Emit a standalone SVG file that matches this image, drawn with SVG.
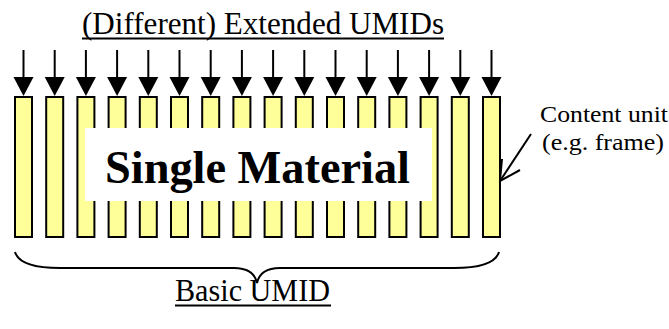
<svg xmlns="http://www.w3.org/2000/svg" width="669" height="329" viewBox="0 0 669 329">
  <style>
    .lbl { font-family: "Liberation Serif", "Times New Roman", serif; fill: #000; }
    .unit { fill: #FFFF99; stroke: #000; stroke-width: 2; }
    .ln { stroke: #000; stroke-width: 2; fill: none; }
    .head { fill: #000; }
  </style>
  <defs>
    <g id="arrow">
      <line x1="0" y1="50" x2="0" y2="80" class="ln"/>
      <polygon points="-10,77 10,77 0,96" class="head"/>
    </g>
    <rect id="unit" x="0" y="97" width="17" height="140" class="unit"/>
  </defs>

  <rect width="669" height="329" fill="#fff"/>

  <g id="title">
    <text class="lbl" x="82" y="34" font-size="32" textLength="362" lengthAdjust="spacingAndGlyphs">(Different) Extended UMIDs</text>
    <line x1="82" y1="38.5" x2="444" y2="38.5" class="ln"/>
  </g>

  <!-- content units (frames) -->
  <g id="units">
    <use href="#unit" x="15"/>
    <use href="#unit" x="46.2"/>
    <use href="#unit" x="77.4"/>
    <use href="#unit" x="108.6"/>
    <use href="#unit" x="139.8"/>
    <use href="#unit" x="171"/>
    <use href="#unit" x="202.2"/>
    <use href="#unit" x="233.4"/>
    <use href="#unit" x="264.6"/>
    <use href="#unit" x="295.8"/>
    <use href="#unit" x="327"/>
    <use href="#unit" x="358.2"/>
    <use href="#unit" x="389.4"/>
    <use href="#unit" x="420.6"/>
    <use href="#unit" x="451.8"/>
    <use href="#unit" x="483"/>
  </g>

  <g id="material">
    <rect x="85" y="128" width="347" height="73" fill="#fff"/>
    <text class="lbl" x="105" y="183" font-size="47" font-weight="bold" textLength="305" lengthAdjust="spacingAndGlyphs">Single Material</text>
  </g>

  <g id="connectors">
    <use href="#arrow" x="23.5"/>
    <use href="#arrow" x="54.7"/>
    <use href="#arrow" x="85.9"/>
    <use href="#arrow" x="117.1"/>
    <use href="#arrow" x="148.3"/>
    <use href="#arrow" x="179.5"/>
    <use href="#arrow" x="210.7"/>
    <use href="#arrow" x="241.9"/>
    <use href="#arrow" x="273.1"/>
    <use href="#arrow" x="304.3"/>
    <use href="#arrow" x="335.5"/>
    <use href="#arrow" x="366.7"/>
    <use href="#arrow" x="397.9"/>
    <use href="#arrow" x="429.1"/>
    <use href="#arrow" x="460.3"/>
    <use href="#arrow" x="491.5"/>
    <!-- pointer to one content unit -->
    <line x1="531" y1="134" x2="500" y2="181" class="ln"/>
    <polyline points="502,159 500,181 520,170" class="ln"/>
    <!-- brace under all units -->
    <path class="ln" d="M15,252 C19,265 38,268 60,268 L234,268 C248,268 255,274 257,283 C259,274 266,268 280,268 L454,268 C476,268 495,265 499,252"/>
  </g>

  <g id="unit-label">
    <text class="lbl" x="540" y="122" font-size="24" textLength="128" lengthAdjust="spacingAndGlyphs">Content unit</text>
    <text class="lbl" x="542" y="150" font-size="24" textLength="122" lengthAdjust="spacingAndGlyphs">(e.g. frame)</text>
  </g>

  <g id="basic">
    <text class="lbl" x="175" y="301" font-size="31" textLength="155" lengthAdjust="spacingAndGlyphs">Basic UMID</text>
    <line x1="175" y1="305.5" x2="331" y2="305.5" class="ln"/>
  </g>
</svg>
